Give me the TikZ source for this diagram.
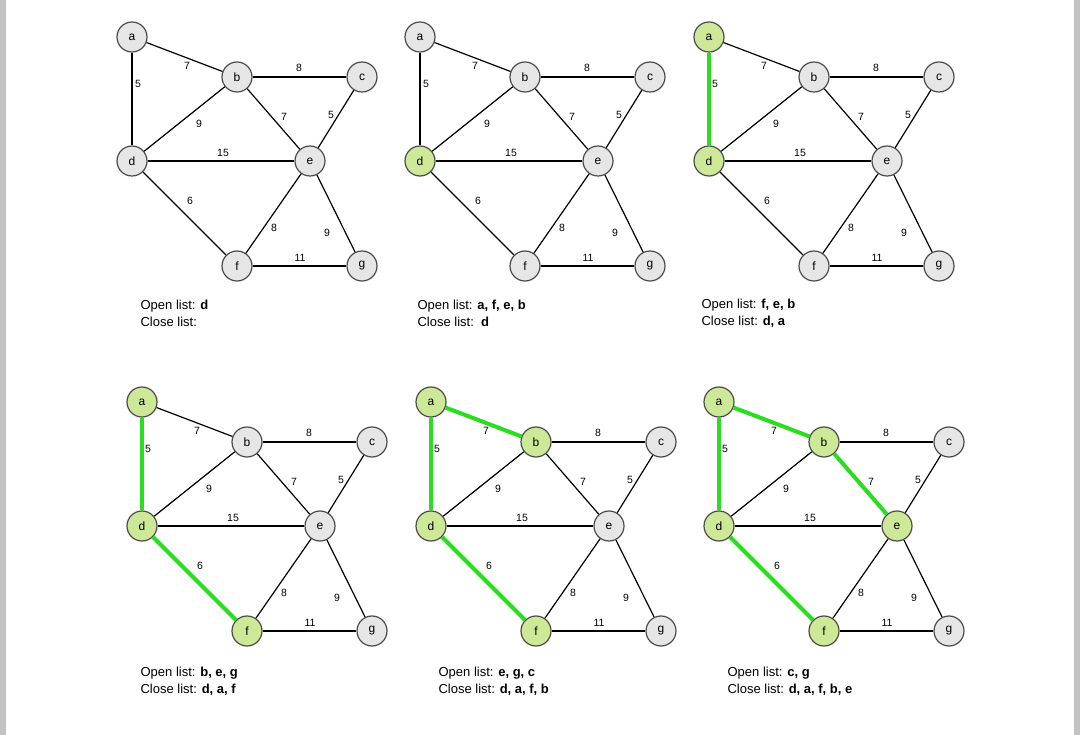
\documentclass[tikz,border=0pt]{standalone}
\usepackage{fontspec}
\setmainfont{Liberation Sans}
\usepackage{tikz}
\definecolor{nodegrey}{RGB}{230,230,230}
\definecolor{visited}{RGB}{205,233,152}
\definecolor{treegreen}{RGB}{40,222,30}
\definecolor{rim}{RGB}{75,75,75}
\definecolor{strip}{RGB}{195,195,195}
\tikzstyle{RV}=[circle,draw=rim,fill=nodegrey,inner sep=0mm,minimum size=30pt,font=\fontsize{12}{14}\selectfont]
\tikzstyle{done}=[fill=visited]
\tikzstyle{wt}=[inner sep=0pt,font=\fontsize{10.5}{12}\selectfont]
\tikzstyle{tree}=[draw=treegreen,line width=4]
\tikzstyle{lists}=[anchor=west,align=left,inner sep=0pt,font=\fontsize{13}{17}\selectfont]
\tikzset{every picture/.style={
    line width=1.2
  }
}
% one graph; #1 name prefix, #2 shift, #3 closed nodes and tree edges
\newcommand \graphpanel [3] {
  \begin{scope}[shift={#2},#3]
    \node[RV,na/.try] at (132,37) (#1a) {a};
    \node[RV,nb/.try] at (237,77) (#1b) {b};
    \node[RV,nc/.try] at (362,77) (#1c) {c};
    \node[RV,nd/.try] at (132,161) (#1d) {d};
    \node[RV,ne/.try] at (310,161) (#1e) {e};
    \node[RV,nf/.try] at (237,266) (#1f) {f};
    \node[RV,ng/.try] at (362,266) (#1g) {g};
    \draw[ead/.try] (#1a) -- (#1d);
    \draw[eab/.try] (#1a) -- (#1b);
    \draw (#1b) -- (#1c);
    \draw (#1d) -- (#1b);
    \draw[ebe/.try] (#1b) -- (#1e);
    \draw (#1c) -- (#1e);
    \draw (#1d) -- (#1e);
    \draw[edf/.try] (#1d) -- (#1f);
    \draw (#1e) -- (#1f);
    \draw (#1e) -- (#1g);
    \draw (#1f) -- (#1g);
    \node[wt] at (138,84) (#1wad) {5};
    \node[wt] at (187,66) (#1wab) {7};
    \node[wt] at (299,68) (#1wbc) {8};
    \node[wt] at (199,124) (#1wdb) {9};
    \node[wt] at (284,117) (#1wbe) {7};
    \node[wt] at (331,115) (#1wce) {5};
    \node[wt] at (223,153) (#1wde) {15};
    \node[wt] at (190,201) (#1wdf) {6};
    \node[wt] at (274,228) (#1wef) {8};
    \node[wt] at (327,233) (#1weg) {9};
    \node[wt] at (300,258) (#1wfg) {11};
  \end{scope}
}

\begin{document}
\begin{tikzpicture}[x=1pt,y=-1pt]
  \useasboundingbox (0,0) rectangle (1080,735);
  \fill[strip] (0,0) rectangle (6,735);
  \fill[strip] (1074,0) rectangle (1080,735);

  \graphpanel{p}{(0,0)}{}
  \graphpanel{q}{(288,0)}{nd/.style=done}
  \graphpanel{r}{(577,0)}{na/.style=done,nd/.style=done,ead/.style=tree}
  \graphpanel{s}{(10,365)}{na/.style=done,nd/.style=done,nf/.style=done,
    ead/.style=tree,edf/.style=tree}
  \graphpanel{t}{(299,365)}{na/.style=done,nb/.style=done,nd/.style=done,nf/.style=done,
    ead/.style=tree,edf/.style=tree,eab/.style=tree}
  \graphpanel{u}{(587,365)}{na/.style=done,nb/.style=done,nd/.style=done,ne/.style=done,nf/.style=done,
    ead/.style=tree,edf/.style=tree,eab/.style=tree,ebe/.style=tree}

  \node[lists] at (140,313.5) (plist) {Open list: \textbf{d}\\Close list:};
  \node[lists] at (417,313.5) (qlist) {Open list: \textbf{a, f, e, b}\\Close list:\ \ \textbf{d}};
  \node[lists] at (701,313.5) (rlist) {Open list: \textbf{f, e, b}\\Close list: \textbf{d, a}};
  \node[lists] at (140,681) (slist) {Open list: \textbf{b, e, g}\\Close list: \textbf{d, a, f}};
  \node[lists] at (438,681) (tlist) {Open list: \textbf{e, g, c}\\Close list: \textbf{d, a, f, b}};
  \node[lists] at (727,681) (ulist) {Open list: \textbf{c, g}\\Close list: \textbf{d, a, f, b, e}};
\end{tikzpicture}
\end{document}
